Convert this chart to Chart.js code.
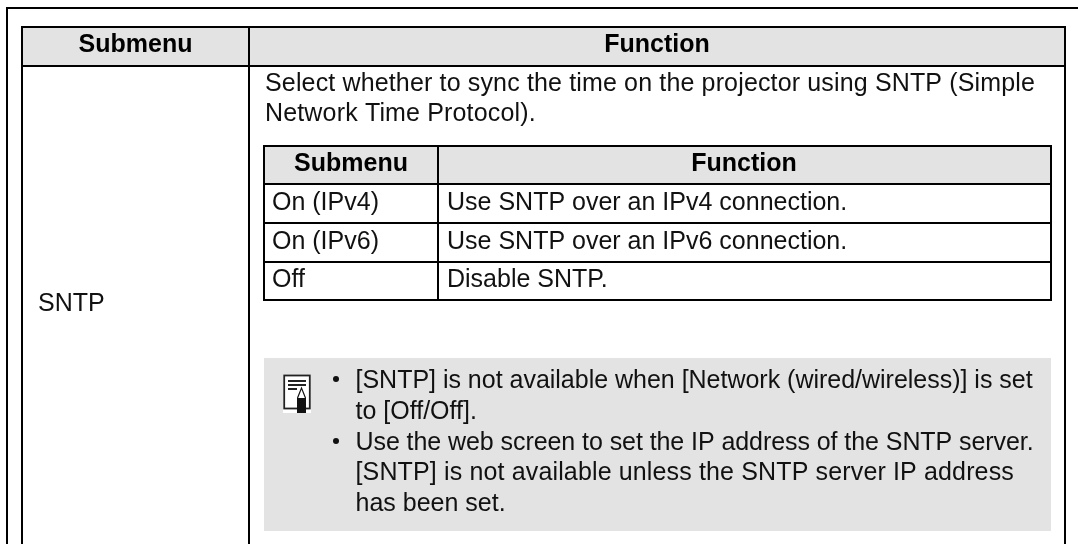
<!DOCTYPE html>
<html><head><meta charset="utf-8">
<script src="https://cdn.jsdelivr.net/npm/chart.js@4"></script>
<style>html,body{margin:0;padding:0;background:#fff;overflow:hidden}canvas{display:block}</style>
</head><body><canvas id="c" width="1078" height="544"></canvas>
<script>
const headerLabels = ["Submenu", "Function"];
const rowLabel = "SNTP";
const introLines = ["Select whether to sync the time on the projector using SNTP (Simple", "Network Time Protocol)."];
const subCategories = ["On (IPv4)", "On (IPv6)", "Off"];
const subFunctions = ["Use SNTP over an IPv4 connection.", "Use SNTP over an IPv6 connection.", "Disable SNTP."];
const noteLines = ["[SNTP] is not available when [Network (wired/wireless)] is set", "to [Off/Off].", "Use the web screen to set the IP address of the SNTP server.", "[SNTP] is not available unless the SNTP server IP address", "has been set."];

const FONT = '"Liberation Sans", Arial, sans-serif';
const tablePlugin = { id: 'table', afterDraw(chart) {
  const g = chart.ctx; g.save();
  const rect = (x,y,w,h,c) => { g.fillStyle=c; g.fillRect(x,y,w,h); };
  const H = (x1,x2,y) => rect(x1,y-1,x2-x1,2,'#000');
  const V = (x,y1,y2) => rect(x-1,y1,2,y2-y1,'#000');
  const text = (s,x,y,bold,align,right) => {
    g.font=(bold?'bold 25px ':'25px ')+FONT; g.fillStyle=bold?'#000':'#111';
    g.textAlign=align||'left'; g.textBaseline='alphabetic';
    g.letterSpacing='0px';
    if(right){ const m=g.measureText(s); g.letterSpacing=((right-x-m.actualBoundingBoxRight)/(s.length-1)).toFixed(3)+'px'; }
    g.fillText(s,x,y); g.letterSpacing='0px';
  };
  // page frame
  H(6,1078,8); V(7,7,544);
  // outer table
  rect(22,27,1043,39,'#e3e3e3');
  rect(264,358,787,173,'#e3e3e3');
  H(21,1066,27); H(21,1066,66); V(22,26,544); V(249,26,544); V(1065,26,544);
  text(headerLabels[0],135.5,52,true,'center');
  text(headerLabels[1],657,52,true,'center');
  text(rowLabel,38,311,false);
  text(introLines[0],265,91,false,'left',1034); text(introLines[1],265,121,false,'left',533.7);
  // inner table
  rect(264,146,787,38,'#e3e3e3');
  [146,184,223,262,300].forEach(y=>H(263,1052,y));
  V(264,145,301); V(438,145,301); V(1051,145,301);
  text(headerLabels[0],351,171,true,'center');
  text(headerLabels[1],744,171,true,'center');
  [210,249,287].forEach((y,i)=>{ text(subCategories[i],272,y); text(subFunctions[i],447,y); });
  // note
  const noteY=[388,418.5,449.5,480,510.5];
  const noteRight=[1032.7,null,1031.7,1013.3,null];
  noteLines.forEach((s,i)=>{
    text(s,355.5,noteY[i],false,'left',noteRight[i]);
    if(i===0||i===2){ g.beginPath(); g.fillStyle='#111'; g.arc(336,Math.round(noteY[i])-9,3,0,7); g.fill(); }
  });
  // note icon
  rect(283,375,28,38,'#fff');
  g.strokeStyle='#222'; g.lineWidth=1.8; g.strokeRect(284.2,375.5,25.6,33);
  rect(288,380,18,2,'#222'); rect(288,384,18,2,'#222'); rect(288,388,9,2,'#222');
  rect(297,398,9,15,'#111');
  g.beginPath(); g.moveTo(297.5,398); g.lineTo(301.5,388); g.lineTo(305.5,398); g.strokeStyle='#111'; g.lineWidth=1.2; g.stroke();
  g.restore();
}};
new Chart(document.getElementById('c'), {
  type:'bar',
  data:{labels:[],datasets:[]},
  options:{responsive:false,animation:false,plugins:{legend:{display:false},tooltip:{enabled:false},title:{display:false}},
    scales:{x:{display:false},y:{display:false}}},
  plugins:[tablePlugin]
});
</script></body></html>
